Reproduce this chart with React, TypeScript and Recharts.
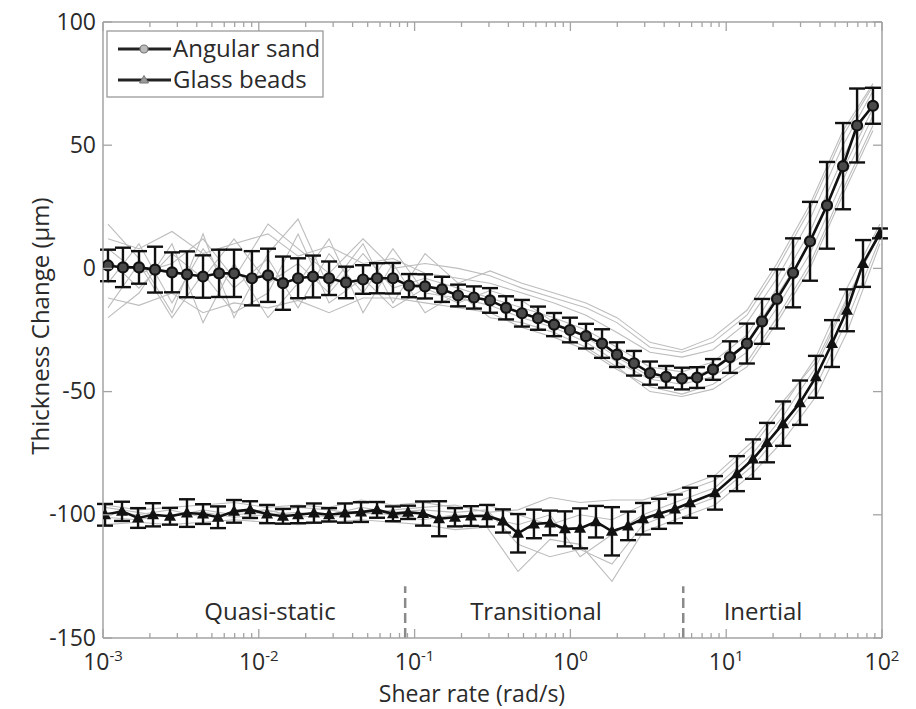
import React from 'react';
import { LineChart, Line, XAxis, YAxis, ErrorBar, ReferenceLine } from 'recharts';

// log10 of shear rate (rad/s) for every averaged point
const sandLogRate = [
  -2.968, -2.872, -2.769, -2.666, -2.557, -2.461, -2.358, -2.255, -2.159, -2.044,
  -1.941, -1.845, -1.748, -1.652, -1.549, -1.44, -1.331, -1.241, -1.139, -1.036,
  -0.933, -0.824, -0.721, -0.619, -0.516, -0.413, -0.311, -0.208, -0.105, -0.003,
  0.1, 0.203, 0.299, 0.408, 0.511, 0.614, 0.716, 0.813, 0.915, 1.024,
  1.133, 1.23, 1.326, 1.429, 1.538, 1.647, 1.75, 1.84, 1.942,
];
const sandThickness = [
  1.2, 0.4, 0.4, -0.5, -1.6, -2.4, -3.3, -2, -2, -4,
  -2.8, -6, -4, -3.3, -4, -5.7, -4.5, -4, -4, -7,
  -7.3, -8.5, -11, -11.8, -13, -16, -18.2, -20.2, -22.8, -25,
  -27.5, -30.5, -35, -38.5, -42.5, -44, -44.7, -44.3, -41, -36,
  -30.5, -21.5, -12.4, -1.8, 11, 25.6, 41.5, 58, 66,
];
const sandError = [
  6.4, 8, 6.6, 9.3, 8.1, 9.3, 8.6, 9.6, 9.6, 11,
  10.8, 10.8, 8.1, 8.5, 6.8, 6.4, 5.8, 6.1, 6.2, 4.7,
  4.9, 5.1, 4.4, 4.5, 5, 4.7, 5.4, 4.7, 4.7, 5,
  5, 5.8, 5, 5, 4.7, 4.4, 4.4, 4.2, 4.2, 6.4,
  8.1, 9.1, 12, 14, 16, 17.6, 17.5, 15, 7.3,
];

const beadLogRate = [
  -2.987, -2.878, -2.775, -2.679, -2.57, -2.461, -2.358, -2.262, -2.159, -2.056,
  -1.947, -1.845, -1.748, -1.646, -1.549, -1.447, -1.344, -1.241, -1.139, -1.042,
  -0.946, -0.843, -0.741, -0.638, -0.535, -0.433, -0.336, -0.234, -0.131, -0.035,
  0.062, 0.164, 0.267, 0.37, 0.466, 0.569, 0.671, 0.768, 0.928, 1.069,
  1.172, 1.262, 1.365, 1.474, 1.576, 1.679, 1.775, 1.878, 1.987,
];
const beadThickness = [
  -100, -98.6, -101.3, -100, -100.6, -99.3, -99.7, -101, -98.6, -97.9,
  -99.7, -100.6, -100, -99.3, -100, -99.3, -98.9, -98, -99.6, -99,
  -99.5, -101.6, -101, -100.5, -100.4, -102.5, -107.5, -103.7, -103.3, -105.7,
  -105.5, -102.8, -106.7, -104.5, -101.6, -99.6, -97.6, -95.1, -91.1, -83.3,
  -77.4, -70.7, -63, -54.5, -44, -30.5, -17, 2, 14.2,
];
const beadError = [
  4.4, 3.9, 4, 4.7, 3.4, 5.6, 4, 4.4, 4.6, 3.4,
  3.7, 3, 3.4, 3.9, 2.7, 3.9, 4, 3.2, 3, 2.7,
  4.9, 7.1, 3.7, 4, 4.4, 4.7, 7.8, 5.8, 5, 7.1,
  8.1, 6.4, 9.8, 5.8, 6.4, 6.1, 5.8, 6.1, 6.8, 7.1,
  8, 8, 9, 9, 8.5, 9.5, 8.5, 9.5, 2,
];

// individual test runs (grey), sampled at every other averaged point
const sandRun1 = [12, 8, 15, 6, 10, 14, 5, 9, 2, 4, -2, -4, -6, -10, -14, -19, -26, -34, -36, -33, -22, -4, 20, 50, 72];
const sandRun2 = [-12, -15, -10, -18, -14, -16, -13, -18, -12, -12, -14, -16, -18, -24, -28, -33, -41, -48, -51, -47, -38, -20, 2, 32, 58];
const sandRun3 = [4, -8, 6, -4, 12, -6, 2, -10, 6, -8, -4, -8, -12, -16, -20, -25, -32, -40, -42, -38, -27, -8, 15, 45, 68];
const sandRun4 = [-6, 10, -14, 8, -8, 4, -16, 6, -10, 8, -10, -12, -15, -20, -24, -30, -38, -45, -47, -44, -34, -16, 6, 36, 62];
const sandRun5 = [8, -2, 2, 12, -4, 18, 8, -2, 12, 0, 2, 0, -3, -8, -12, -16, -22, -32, -34, -30, -19, 0, 24, 54, 74];
const sandRun6 = [-16, 2, -20, -2, -18, -10, 14, -14, -4, -16, -8, -14, -9, -13, -22, -28, -36, -44, -45, -41, -30, -11, 10, 40, 65];
const sandRun7 = [18, 4, -18, 14, -20, 6, 20, -8, 10, -14, 6, -6, -1, -6, -10, -14, -20, -30, -33, -28, -17, 2, 26, 56, 75];
const sandRun8 = [-20, -10, 10, -22, 2, -20, -6, 12, -18, 2, -18, -10, -20, -22, -26, -32, -40, -50, -52, -49, -40, -22, 0, 30, 56];

const beadRun1 = [-96, -98, -97, -96, -95, -97, -96, -97, -94, -96, -95, -97, -96, -100, -104, -100, -102, -96, -92, -86, -72, -56, -36, -8, 18];
const beadRun2 = [-104, -103, -104, -103, -102, -103, -104, -103, -102, -103, -104, -106, -105, -123, -110, -112, -127, -107, -102, -96, -83, -70, -52, -26, 10];
const beadRun3 = [-99, -100, -98, -101, -99, -98, -101, -100, -97, -99, -98, -99, -98, -112, -117, -114, -120, -104, -99, -93, -80, -66, -48, -21, 12];
const beadRun4 = [-101, -102, -100, -99, -101, -100, -99, -101, -99, -100, -102, -100, -101, -104, -100, -117, -108, -100, -95, -89, -75, -60, -40, -13, 16];
const beadRun5 = [-97, -99, -101, -98, -100, -99, -97, -98, -100, -98, -97, -96, -99, -98, -93, -95, -94, -94, -90, -84, -70, -54, -38, -12, 14];

const xMajorTicks = [0.001, 0.01, 0.1, 1, 10, 100];
const yTicks = [-150, -100, -50, 0, 50, 100];
const regimeLabels = ['Quasi-static', 'Transitional', 'Inertial'];
const regimeBounds = [0.087, 5.3];

const FONT = '"Open Sans", "DejaVu Sans", sans-serif';
const AXIS = '#a3a3a3';
const INK = '#2a2a2a';

const xTicks: number[] = [];
xMajorTicks.forEach((d, i) => {
  xTicks.push(d);
  if (i < xMajorTicks.length - 1) for (let m = 2; m <= 9; m++) xTicks.push(+(d * m).toPrecision(3));
});

const mean = (logRate: number[], vals: number[], errs: number[]) =>
  logRate.map((e, i) => ({ rate: Math.pow(10, e), value: vals[i], err: errs[i] }));
const run = (logRate: number[], vals: number[]) =>
  vals.map((v, i) => ({ rate: Math.pow(10, logRate[i * 2]), value: v }));

const sandData = mean(sandLogRate, sandThickness, sandError);
const beadData = mean(beadLogRate, beadThickness, beadError);
const greyRuns = [
  ...[sandRun1, sandRun2, sandRun3, sandRun4, sandRun5, sandRun6, sandRun7, sandRun8].map((r) => run(sandLogRate, r)),
  ...[beadRun1, beadRun2, beadRun3, beadRun4, beadRun5].map((r) => run(beadLogRate, r)),
];

const isMajor = (v: number) => Math.abs(Math.log10(v) - Math.round(Math.log10(v))) < 1e-6;

const BottomTick = ({ x, y, payload }: any) => {
  const major = isMajor(payload.value);
  return (
    <g>
      <line x1={x} x2={x} y1={y} y2={y - (major ? 9 : 5)} stroke={AXIS} strokeWidth={1.3} />
      {major && (
        <text x={x} y={y + 32} textAnchor="middle" fill={INK} fontSize={23} fontFamily={FONT}>
          10<tspan dy={-9} fontSize={15}>{Math.round(Math.log10(payload.value))}</tspan>
        </text>
      )}
    </g>
  );
};

const TopTick = ({ x, y, payload }: any) => (
  <line x1={x} x2={x} y1={y} y2={y + (isMajor(payload.value) ? 9 : 5)} stroke={AXIS} strokeWidth={1.3} />
);

const LeftTick = ({ x, y, payload }: any) => (
  <g>
    <line x1={x} x2={x + 9} y1={y} y2={y} stroke={AXIS} strokeWidth={1.3} />
    <text x={x - 7} y={y} dy="0.33em" textAnchor="end" fill={INK} fontSize={23} fontFamily={FONT}>
      {payload.value}
    </text>
  </g>
);

const RightTick = ({ x, y }: any) => (
  <line x1={x} x2={x - 9} y1={y} y2={y} stroke={AXIS} strokeWidth={1.3} />
);

const CircleDot = ({ cx, cy, index }: any) => (
  <circle key={`c-${index}`} cx={cx} cy={cy} r={5} fill="#4a4a4a" stroke="#111" strokeWidth={2.2} />
);
const TriangleDot = ({ cx, cy, index }: any) => (
  <path key={`t-${index}`} d={`M${cx},${cy - 6.5} L${cx + 6},${cy + 4.5} L${cx - 6},${cy + 4.5} Z`} fill="#111" />
);

export default function App() {
  return (
    <div style={{ position: 'relative', width: 900, height: 700, fontFamily: FONT }}>
      <LineChart width={900} height={700} margin={{ top: 13, right: 25, bottom: 11, left: 15 }}>
        <XAxis
          dataKey="rate" type="number" scale="log" domain={[0.001, 100]} allowDataOverflow
          ticks={xTicks} interval={0} tick={<BottomTick />} tickLine={false} tickSize={0} tickMargin={0}
          height={59} stroke={AXIS} strokeWidth={1.5}
        />
        <XAxis
          xAxisId="top" orientation="top" dataKey="rate" type="number" scale="log" domain={[0.001, 100]}
          allowDataOverflow ticks={xTicks} interval={0} tick={<TopTick />} tickLine={false} tickSize={0}
          tickMargin={0} height={1} stroke={AXIS} strokeWidth={1.5}
        />
        <YAxis
          type="number" domain={[-150, 100]} ticks={yTicks} interval={0} allowDataOverflow
          tick={<LeftTick />} tickLine={false} tickSize={0} tickMargin={0} width={80}
          stroke={AXIS} strokeWidth={1.5}
        />
        <YAxis
          yAxisId="right" orientation="right" type="number" domain={[-150, 100]} ticks={yTicks}
          interval={0} allowDataOverflow tick={<RightTick />} tickLine={false} tickSize={0}
          tickMargin={0} width={1} stroke={AXIS} strokeWidth={1.5}
        />

        {greyRuns.map((d, i) => (
          <Line
            key={`run-${i}`} data={d} dataKey="value" stroke="#bdbdbd" strokeWidth={1.1}
            dot={false} isAnimationActive={false} legendType="none"
          />
        ))}

        {regimeBounds.map((b) => (
          <ReferenceLine
            key={b} segment={[{ x: b, y: -150 }, { x: b, y: -129 }]}
            stroke="#8a8a8a" strokeWidth={2.5} strokeDasharray="10 5"
          />
        ))}

        <Line
          data={sandData} dataKey="value" name="Angular sand" stroke="#111" strokeWidth={2.6}
          dot={<CircleDot />} isAnimationActive={false}
        >
          <ErrorBar dataKey="err" direction="y" width={8} stroke="#111" strokeWidth={2.4} />
        </Line>
        <Line
          data={beadData} dataKey="value" name="Glass beads" stroke="#111" strokeWidth={2.6}
          dot={<TriangleDot />} isAnimationActive={false}
        >
          <ErrorBar dataKey="err" direction="y" width={8} stroke="#111" strokeWidth={2.4} />
        </Line>
      </LineChart>

      <svg
        width={900} height={700}
        style={{ position: 'absolute', left: 0, top: 0, pointerEvents: 'none' }}
        fontFamily={FONT}
      >
        {/* legend */}
        <rect x={99} y={23} width={216} height={66} fill="#fff" stroke="#9a9a9a" strokeWidth={1.3} />
        <line x1={110} x2={163} y1={41} y2={41} stroke="#222" strokeWidth={3} />
        <circle cx={136} cy={41} r={4} fill="#bbb" stroke="#777" strokeWidth={1.2} />
        <text x={165} y={41} dy="0.35em" fontSize={24} fill={INK}>Angular sand</text>
        <line x1={110} x2={163} y1={72} y2={72} stroke="#222" strokeWidth={3} />
        <path d="M136,67.5 L140.5,75 L131.5,75 Z" fill="#999" stroke="#777" strokeWidth={1} />
        <text x={165} y={72} dy="0.35em" fontSize={24} fill={INK}>Glass beads</text>

        {/* regime labels */}
        <text x={262} y={612} textAnchor="middle" fontSize={24} fill={INK}>{regimeLabels[0]}</text>
        <text x={528} y={612} textAnchor="middle" fontSize={24} fill={INK}>{regimeLabels[1]}</text>
        <text x={755} y={612} textAnchor="middle" fontSize={24} fill={INK}>{regimeLabels[2]}</text>

        {/* axis titles */}
        <text x={464} y={694} textAnchor="middle" fontSize={23} fill={INK}>Shear rate (rad/s)</text>
        <text
          x={31} y={318} textAnchor="middle" dominantBaseline="central" fontSize={24} fill={INK}
          transform="rotate(-90 31 318)"
        >
          Thickness Change (μm)
        </text>
      </svg>
    </div>
  );
}
